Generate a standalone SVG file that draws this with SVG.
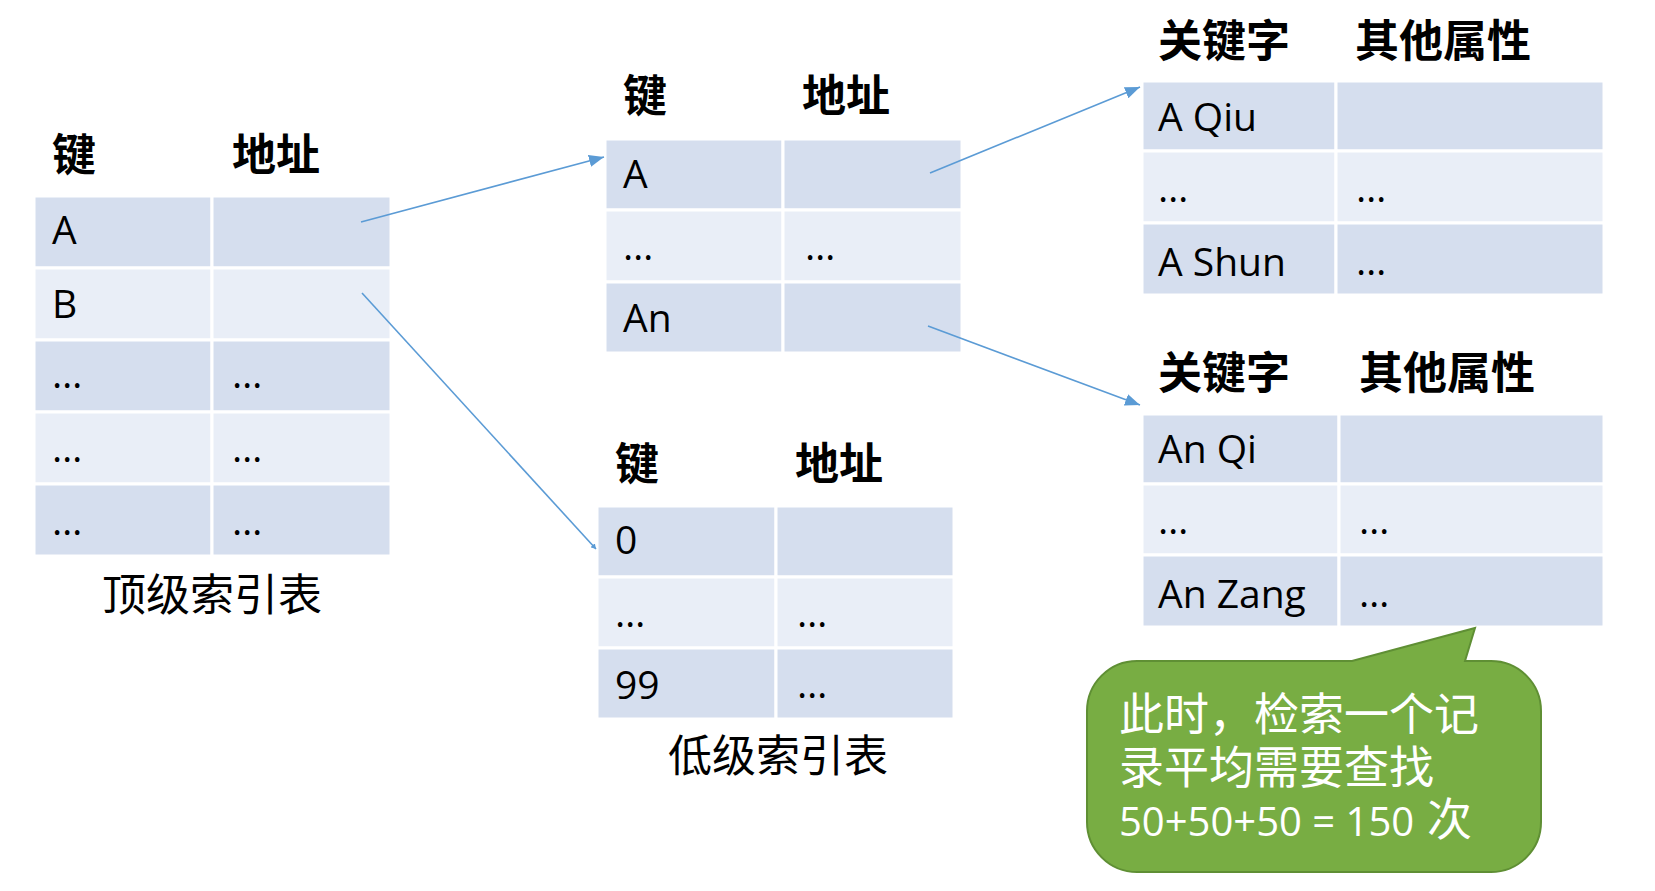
<svg xmlns="http://www.w3.org/2000/svg" width="1655" height="891" viewBox="0 0 1655 891">
<defs>
<style>
.d{fill:#d5deee;stroke:#ffffff;stroke-width:3}
.l{fill:#e9eef7;stroke:#ffffff;stroke-width:3}
.hd{font-family:"Noto Sans CJK SC","Noto Sans CJK TC",sans-serif;font-weight:700;font-size:44px;fill:#000}
.cap{font-family:"Noto Sans CJK SC","Noto Sans CJK TC",sans-serif;font-weight:400;font-size:44px;fill:#000}
.t{font-family:"Open Sans","Noto Sans",sans-serif;font-size:39px;fill:#000}
.ct{font-family:"Noto Sans CJK SC","Noto Sans CJK TC",sans-serif;font-size:45px;fill:#ffffff}
.cn{font-family:"Open Sans","Noto Sans",sans-serif;font-size:40px;fill:#ffffff}
.ar{fill:none;stroke:#5b9bd5;stroke-width:1.6}
</style>
<marker id="ah" markerUnits="userSpaceOnUse" markerWidth="16" markerHeight="12" refX="15" refY="6" orient="auto">
<path d="M0,0 L15,6 L0,12 Z" fill="#5b9bd5"/>
</marker>
<marker id="ahs" markerUnits="userSpaceOnUse" markerWidth="6" markerHeight="6" refX="5" refY="3" orient="auto">
<path d="M0,0 L5,3 L0,6 Z" fill="#5b9bd5"/>
</marker>
</defs>
<rect width="1655" height="891" fill="#ffffff"/>

<g id="top-index">
<text class="hd" x="52" y="171">键</text>
<text class="hd" x="232" y="171">地址</text>
<rect class="d" x="34" y="196" width="178" height="72"/><rect class="d" x="212" y="196" width="179" height="72"/>
<rect class="l" x="34" y="268" width="178" height="72"/><rect class="l" x="212" y="268" width="179" height="72"/>
<rect class="d" x="34" y="340" width="178" height="72"/><rect class="d" x="212" y="340" width="179" height="72"/>
<rect class="l" x="34" y="412" width="178" height="72"/><rect class="l" x="212" y="412" width="179" height="72"/>
<rect class="d" x="34" y="484" width="178" height="72"/><rect class="d" x="212" y="484" width="179" height="72"/>
<text class="t" x="52" y="244">A</text>
<text class="t" x="52" y="318">B</text>
<text class="t" x="52" y="388">…</text><text class="t" x="232" y="388">…</text>
<text class="t" x="52" y="462">…</text><text class="t" x="232" y="462">…</text>
<text class="t" x="52" y="535">…</text><text class="t" x="232" y="535">…</text>
<text class="cap" x="102" y="611">顶级索引表</text>
</g>

<g id="mid-index-a">
<text class="hd" x="623" y="112">键</text>
<text class="hd" x="802" y="112">地址</text>
<rect class="d" x="605" y="139" width="178" height="71"/><rect class="d" x="783" y="139" width="179" height="71"/>
<rect class="l" x="605" y="210" width="178" height="72"/><rect class="l" x="783" y="210" width="179" height="72"/>
<rect class="d" x="605" y="282" width="178" height="71"/><rect class="d" x="783" y="282" width="179" height="71"/>
<text class="t" x="623" y="188">A</text>
<text class="t" x="623" y="260">…</text><text class="t" x="805" y="260">…</text>
<text class="t" x="623" y="332">An</text>
</g>

<g id="mid-index-0">
<text class="hd" x="615" y="480">键</text>
<text class="hd" x="795" y="480">地址</text>
<rect class="d" x="597" y="506" width="179" height="71"/><rect class="d" x="776" y="506" width="178" height="71"/>
<rect class="l" x="597" y="577" width="179" height="71"/><rect class="l" x="776" y="577" width="178" height="71"/>
<rect class="d" x="597" y="648" width="179" height="71"/><rect class="d" x="776" y="648" width="178" height="71"/>
<text class="t" x="615" y="554">0</text>
<text class="t" x="615" y="627">…</text><text class="t" x="797" y="627">…</text>
<text class="t" x="615" y="699">99</text><text class="t" x="797" y="698">…</text>
<text class="cap" x="668" y="772">低级索引表</text>
</g>

<g id="records-a">
<text class="hd" x="1158" y="57">关键字</text>
<text class="hd" x="1355" y="57">其他属性</text>
<rect class="d" x="1142" y="81" width="194" height="70"/><rect class="d" x="1336" y="81" width="268" height="70"/>
<rect class="l" x="1142" y="151" width="194" height="72"/><rect class="l" x="1336" y="151" width="268" height="72"/>
<rect class="d" x="1142" y="223" width="194" height="72"/><rect class="d" x="1336" y="223" width="268" height="72"/>
<text class="t" x="1158" y="131">A Qiu</text>
<text class="t" x="1158" y="202">…</text><text class="t" x="1356" y="202">…</text>
<text class="t" x="1158" y="276">A Shun</text><text class="t" x="1356" y="275">…</text>
</g>

<g id="records-an">
<text class="hd" x="1158" y="389">关键字</text>
<text class="hd" x="1359" y="389">其他属性</text>
<rect class="d" x="1142" y="414" width="197" height="70"/><rect class="d" x="1339" y="414" width="265" height="70"/>
<rect class="l" x="1142" y="484" width="197" height="71"/><rect class="l" x="1339" y="484" width="265" height="71"/>
<rect class="d" x="1142" y="555" width="197" height="72"/><rect class="d" x="1339" y="555" width="265" height="72"/>
<text class="t" x="1158" y="463">An Qi</text>
<text class="t" x="1158" y="534">…</text><text class="t" x="1359" y="534">…</text>
<text class="t" x="1158" y="608">An Zang</text><text class="t" x="1359" y="607">…</text>
</g>

<g id="callout">
<path d="M1137,661 L1352,661 L1475,628 L1465,661 L1491,661 A50,50 0 0 1 1541,711 L1541,822 A50,50 0 0 1 1491,872 L1137,872 A50,50 0 0 1 1087,822 L1087,711 A50,50 0 0 1 1137,661 Z" fill="#78ad43" stroke="#5f8f34" stroke-width="2"/>
<text class="ct"><tspan x="1119" y="731">此时，检索一个记</tspan><tspan x="1119" y="784">录平均需要查找</tspan><tspan class="cn" x="1119" y="836">50+50+50 = 150 </tspan><tspan x="1427" y="836">次</tspan></text>
</g>

<g id="connectors">
<line class="ar" x1="361" y1="222" x2="604" y2="157" marker-end="url(#ah)"/>
<line class="ar" x1="362" y1="293" x2="596" y2="549" marker-end="url(#ahs)"/>
<line class="ar" x1="930" y1="173" x2="1140" y2="87" marker-end="url(#ah)"/>
<line class="ar" x1="928" y1="326" x2="1140" y2="405" marker-end="url(#ah)"/>
</g>
</svg>
